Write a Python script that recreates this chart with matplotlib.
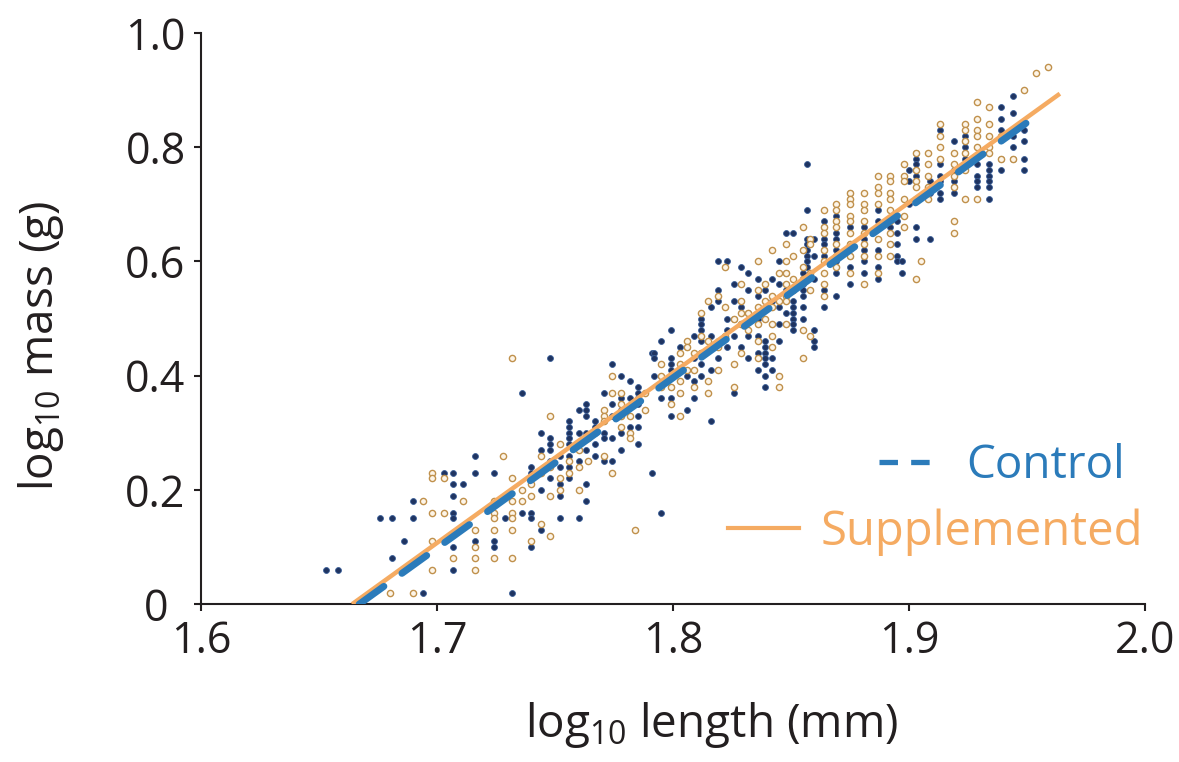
import numpy as np
import matplotlib
matplotlib.use("Agg")
import matplotlib.pyplot as plt
import matplotlib.transforms as mtransforms
from matplotlib.lines import Line2D

# =============================
# DATA (log10 units)
# =============================
# control fish: column x -> list of log10 mass values
ctrl_cols = [1.653, 1.658, 1.676, 1.681, 1.686, 1.690, 1.694, 1.703, 1.707, 1.711,
             1.716, 1.724, 1.729, 1.732, 1.736, 1.740, 1.744, 1.748, 1.752, 1.756,
             1.760, 1.763, 1.767, 1.771, 1.774, 1.778, 1.782, 1.785, 1.791, 1.792,
             1.795, 1.799, 1.803, 1.806, 1.809, 1.812, 1.816, 1.819, 1.823, 1.826,
             1.829, 1.832, 1.836, 1.839, 1.842, 1.845, 1.848, 1.851, 1.855, 1.857,
             1.860, 1.864, 1.869, 1.875, 1.881, 1.887, 1.892, 1.895, 1.897, 1.900,
             1.903, 1.909, 1.913, 1.919, 1.924, 1.929, 1.934, 1.939, 1.944, 1.949]
ctrl_vals = [
    [0.06], [0.06], [0.15], [0.15, 0.08], [0.11], [0.18, 0.15], [0.02], [0.23],
    [0.23, 0.21, 0.19, 0.16, 0.15, 0.10, 0.06], [0.21],
    [0.26, 0.23, 0.11], [0.23, 0.11, 0.10], [0.15], [0.02], [0.37, 0.16],
    [0.24, 0.23, 0.16, 0.15, 0.10], [0.30, 0.27, 0.20, 0.13],
    [0.43, 0.29, 0.28, 0.27, 0.25, 0.22], [0.26, 0.24, 0.21, 0.19, 0.15],
    [0.32, 0.31, 0.30, 0.29, 0.28, 0.26, 0.24, 0.22],
    [0.34, 0.30, 0.28, 0.25, 0.15], [0.35, 0.34, 0.33, 0.30, 0.29, 0.27, 0.21, 0.18],
    [0.32, 0.31, 0.30, 0.28, 0.26], [0.37, 0.30, 0.29, 0.25],
    [0.42, 0.35, 0.33, 0.29, 0.25], [0.40, 0.36, 0.34, 0.30, 0.27],
    [0.39, 0.36, 0.31], [0.38, 0.37, 0.36, 0.35, 0.33, 0.31, 0.28], [0.44, 0.23],
    [0.44, 0.43, 0.40], [0.46, 0.36, 0.16],
    [0.48, 0.43, 0.42, 0.41, 0.40, 0.38, 0.36, 0.33], [0.45, 0.41, 0.37],
    [0.45, 0.40, 0.34], [0.47, 0.43, 0.39, 0.36],
    [0.50, 0.49, 0.48, 0.46, 0.44, 0.42, 0.40], [0.52, 0.47, 0.45, 0.41, 0.32],
    [0.60, 0.55, 0.53, 0.46, 0.43], [0.60, 0.50, 0.48, 0.45],
    [0.56, 0.53, 0.50, 0.47, 0.37], [0.59, 0.52, 0.49, 0.45],
    [0.58, 0.55, 0.51, 0.47, 0.43], [0.57, 0.54, 0.50, 0.47, 0.44, 0.41],
    [0.55, 0.46, 0.45, 0.44, 0.43, 0.42, 0.40, 0.38], [0.57, 0.53, 0.43, 0.41],
    [0.60, 0.56, 0.52, 0.49, 0.46], [0.65, 0.58, 0.55, 0.51],
    [0.65, 0.53, 0.52, 0.51, 0.50, 0.49, 0.48], [0.62, 0.58, 0.56, 0.55, 0.54, 0.52, 0.50],
    [0.77, 0.69, 0.64, 0.63, 0.62, 0.61, 0.60, 0.59], [0.64, 0.61, 0.57, 0.48, 0.46, 0.45],
    [0.67, 0.66, 0.64, 0.63, 0.62, 0.61, 0.55, 0.52],
    [0.68, 0.67, 0.65, 0.64, 0.62, 0.60, 0.58, 0.54],
    [0.72, 0.66, 0.63, 0.61, 0.59, 0.56], [0.69, 0.66, 0.64, 0.62, 0.60, 0.58],
    [0.69, 0.67, 0.62, 0.59, 0.57], [0.72, 0.66, 0.63], [0.67, 0.65, 0.63, 0.61, 0.60],
    [0.58, 0.60], [0.76, 0.74, 0.70], [0.79, 0.78, 0.77, 0.76, 0.75, 0.66, 0.64],
    [0.74, 0.72, 0.64], [0.83, 0.77, 0.75, 0.74, 0.72, 0.71],
    [0.81, 0.76, 0.74, 0.73, 0.72], [0.82, 0.81, 0.80, 0.79, 0.78],
    [0.77, 0.75, 0.74, 0.73], [0.77, 0.76, 0.75, 0.74, 0.73, 0.71],
    [0.87, 0.85, 0.83, 0.78, 0.76], [0.89, 0.86, 0.82, 0.80, 0.78],
    [0.83, 0.81, 0.78, 0.76],
]

# supplemented fish
supp_cols = [1.680, 1.690, 1.694, 1.698, 1.703, 1.707, 1.711, 1.716, 1.724, 1.728,
             1.732, 1.736, 1.740, 1.744, 1.748, 1.752, 1.756, 1.760, 1.764, 1.771,
             1.774, 1.778, 1.782, 1.784, 1.788, 1.795, 1.799, 1.803, 1.806, 1.809,
             1.812, 1.815, 1.819, 1.822, 1.826, 1.829, 1.832, 1.836, 1.839, 1.842,
             1.845, 1.848, 1.851, 1.855, 1.858, 1.864, 1.869, 1.875, 1.881, 1.887,
             1.892, 1.898, 1.903, 1.905, 1.908, 1.913, 1.919, 1.924, 1.929, 1.934,
             1.939, 1.944, 1.949, 1.954, 1.959]
supp_vals = [
    [0.02], [0.02], [0.18], [0.23, 0.22, 0.16, 0.11, 0.06], [0.22, 0.16], [0.08],
    [0.18], [0.13, 0.10, 0.08, 0.06], [0.18, 0.16, 0.15, 0.13, 0.08], [0.26],
    [0.43, 0.22, 0.18, 0.16, 0.15, 0.13, 0.08], [0.20, 0.18], [0.21, 0.19, 0.11],
    [0.26, 0.23, 0.14], [0.33, 0.24, 0.19, 0.12], [0.28, 0.22, 0.20], [0.25, 0.23],
    [0.27, 0.24, 0.20], [0.29, 0.25], [0.34, 0.33, 0.32, 0.26],
    [0.40, 0.37, 0.23], [0.37, 0.35, 0.33, 0.31], [0.33, 0.30, 0.29], [0.13],
    [0.37, 0.34], [0.42, 0.40, 0.38], [0.38, 0.35], [0.44, 0.42, 0.39, 0.37, 0.33],
    [0.46, 0.45, 0.41], [0.44, 0.41, 0.38],
    [0.51, 0.47, 0.44], [0.53, 0.46, 0.39, 0.37], [0.54, 0.45, 0.41], [0.59, 0.52, 0.47],
    [0.50, 0.42, 0.38], [0.56, 0.53, 0.51, 0.49, 0.44], [0.51, 0.48],
    [0.60, 0.55, 0.52, 0.49, 0.46, 0.43], [0.56, 0.53, 0.50],
    [0.62, 0.54, 0.52, 0.49, 0.47, 0.45],
    [0.58, 0.53, 0.40, 0.38], [0.63, 0.60, 0.58, 0.56, 0.54, 0.53, 0.49],
    [0.61, 0.57, 0.55], [0.66, 0.62, 0.59, 0.57, 0.48, 0.43],
    [0.64, 0.63, 0.58, 0.55, 0.47], [0.69, 0.66, 0.65, 0.62, 0.60, 0.58, 0.56, 0.54],
    [0.70, 0.69, 0.67, 0.66, 0.63, 0.61, 0.59],
    [0.72, 0.71, 0.70, 0.68, 0.67, 0.65, 0.63, 0.61, 0.58],
    [0.72, 0.70, 0.69, 0.67, 0.65, 0.63, 0.61, 0.56],
    [0.75, 0.73, 0.72, 0.70, 0.66, 0.64, 0.61, 0.58],
    [0.75, 0.74, 0.72, 0.71, 0.69, 0.67, 0.65, 0.63, 0.61],
    [0.77, 0.75, 0.74, 0.71, 0.68, 0.66], [0.79, 0.76, 0.74, 0.73, 0.71, 0.57], [0.60],
    [0.79, 0.77, 0.75, 0.73, 0.71], [0.84, 0.82, 0.80, 0.78],
    [0.79, 0.77, 0.75, 0.73, 0.67, 0.65], [0.84, 0.83, 0.81, 0.79, 0.77, 0.76, 0.71],
    [0.88, 0.85, 0.83, 0.82, 0.80, 0.71], [0.87, 0.84, 0.82, 0.80, 0.79],
    [0.82, 0.78], [0.83, 0.78], [0.90], [0.93], [0.94],
]

# fitted regression lines: slope, intercept, x range
ctrl_fit = [2.98, -4.968]
ctrl_range = [1.667, 1.950]
supp_fit = [2.98, -4.959]
supp_range = [1.664, 1.964]

x_ticks = [1.6, 1.7, 1.8, 1.9, 2.0]
x_ticklabels = ["1.6", "1.7", "1.8", "1.9", "2.0"]
y_ticks = [0, 0.2, 0.4, 0.6, 0.8, 1.0]
y_ticklabels = ["0", "0.2", "0.4", "0.6", "0.8", "1.0"]

# =============================
# STYLE
# =============================
plt.rcParams["font.family"] = ["Open Sans", "DejaVu Sans"]
plt.rcParams["mathtext.fontset"] = "custom"
plt.rcParams["mathtext.rm"] = "Open Sans"
plt.rcParams["mathtext.default"] = "regular"

navy = "#1f3461"
navy_edge = "#3b5f98"
tan_edge = "#c0914c"
tan_face = "#fdf5e8"
blue = "#2b7bba"
orange = "#f5ab62"
ink = "#231f20"

# flatten the columns
ctrl_x = [x for x, ys in zip(ctrl_cols, ctrl_vals) for _ in ys]
ctrl_y = [y for ys in ctrl_vals for y in ys]
supp_x = [x for x, ys in zip(supp_cols, supp_vals) for _ in ys]
supp_y = [y for ys in supp_vals for y in ys]

# =============================
# PLOT
# =============================
fig = plt.figure(figsize=(11.79, 7.62), dpi=100)
ax = fig.add_axes([0.1705, 0.2073, 0.8005, 0.7494])

ax.scatter(ctrl_x, ctrl_y, s=18, c=navy, edgecolors=navy_edge, linewidths=0.6, zorder=3)
ax.scatter(supp_x, supp_y, s=20, c=tan_face, edgecolors=tan_edge, linewidths=1.0, zorder=3)

xs = np.array(supp_range)
ax.plot(xs, supp_fit[0] * xs + supp_fit[1], color=orange, lw=3.2, zorder=4,
        solid_capstyle="butt")
xc = np.array(ctrl_range)
ax.plot(xc, ctrl_fit[0] * xc + ctrl_fit[1], color=blue, lw=5, zorder=5,
        dashes=(4.4, 3.2), dash_capstyle="round")

ax.set_xlim(1.6, 2.0)
ax.set_ylim(0, 1.0)
ax.set_xticks(x_ticks, x_ticklabels)
ax.set_yticks(y_ticks, y_ticklabels)

for side in ["top", "right"]:
    ax.spines[side].set_visible(False)
for side in ["left", "bottom"]:
    ax.spines[side].set_linewidth(1.5)
    ax.spines[side].set_color(ink)

ax.tick_params(direction="out", length=5, width=1.5, color=ink,
               labelsize=31, labelcolor=ink, pad=6)

# the "0" label sits a little further left so it clears "1.6"
zero_lbl = ax.get_yticklabels()[0]
zero_lbl.set_transform(zero_lbl.get_transform() +
                       mtransforms.ScaledTranslation(-0.17, 0, fig.dpi_scale_trans))

ax.set_xlabel(r"log$_{10}$ length (mm)", fontsize=33, color=ink, va="center")
ax.set_ylabel(r"log$_{10}$ mass (g)", fontsize=33, color=ink, va="center")
ax.xaxis.set_label_coords(0.541, -0.212)
ax.yaxis.set_label_coords(-0.1695, 0.452)

# =============================
# LEGEND (right aligned rows)
# =============================
h_ctrl = Line2D([], [], color=blue, lw=3.8, dashes=(3.5, 2.5))
h_supp = Line2D([], [], color=orange, lw=3.0)

leg1 = ax.legend([h_ctrl], ["Control"], loc="center right", bbox_to_anchor=(0.979, 0.242),
                 frameon=False, fontsize=33, handlelength=1.2, handletextpad=0.7,
                 borderpad=0, borderaxespad=0, labelcolor=[blue])
ax.add_artist(leg1)
ax.legend([h_supp], ["Supplemented"], loc="center right", bbox_to_anchor=(0.998, 0.126),
          frameon=False, fontsize=34, handlelength=1.5, handletextpad=0.45,
          borderpad=0, borderaxespad=0, labelcolor=[orange])

fig.savefig("out.png", dpi=100)
